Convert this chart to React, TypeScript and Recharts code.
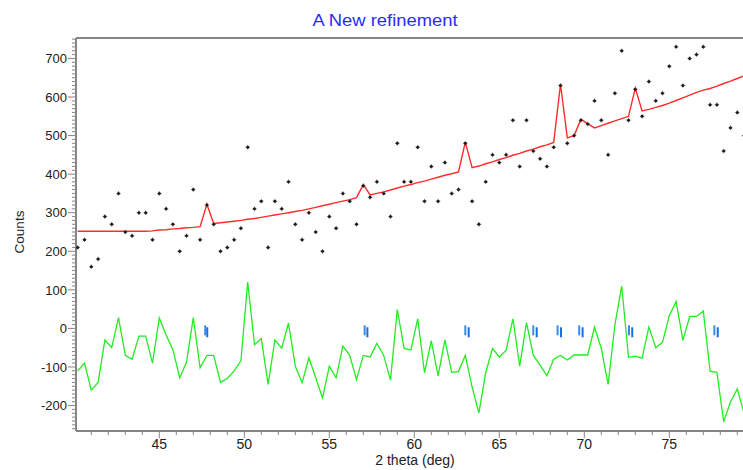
import React from 'react';
import { ComposedChart, Line, Scatter, XAxis, YAxis, ReferenceLine } from 'recharts';

// 2 theta positions of the scan (deg)
const twoTheta = [
  40.2, 40.6, 41.0, 41.4, 41.8, 42.2, 42.6, 43.0, 43.4, 43.8,
  44.2, 44.6, 45.0, 45.4, 45.8, 46.2, 46.6, 47.0, 47.4, 47.8,
  48.2, 48.6, 49.0, 49.4, 49.8, 50.2, 50.6, 51.0, 51.4, 51.8,
  52.2, 52.6, 53.0, 53.4, 53.8, 54.2, 54.6, 55.0, 55.4, 55.8,
  56.2, 56.6, 57.0, 57.4, 57.8, 58.2, 58.6, 59.0, 59.4, 59.8,
  60.2, 60.6, 61.0, 61.4, 61.8, 62.2, 62.6, 63.0, 63.4, 63.8,
  64.2, 64.6, 65.0, 65.4, 65.8, 66.2, 66.6, 67.0, 67.4, 67.8,
  68.2, 68.6, 69.0, 69.4, 69.8, 70.2, 70.6, 71.0, 71.4, 71.8,
  72.2, 72.6, 73.0, 73.4, 73.8, 74.2, 74.6, 75.0, 75.4, 75.8,
  76.2, 76.6, 77.0, 77.4, 77.8, 78.2, 78.6, 79.0, 79.4,
];

const observed = [
  210, 230, 160, 180, 290, 270, 350, 250, 240, 300,
  300, 230, 350, 310, 270, 200, 240, 360, 230, 320,
  270, 200, 210, 230, 260, 470, 310, 330, 210, 330,
  310, 380, 270, 230, 300, 250, 200, 290, 260, 350,
  330, 270, 370, 340, 380, 350, 290, 480, 380, 380,
  470, 330, 420, 330, 430, 350, 360, 480, 330, 270,
  380, 450, 430, 450, 540, 420, 540, 460, 440, 420,
  470, 630, 480, 500, 540, 530, 590, 540, 450, 610,
  720, 540, 620, 550, 640, 590, 610, 680, 730, 630,
  700, 710, 730, 580, 580, 460, 520, 560, 500,
];

const calculated = [
  252, 252, 252, 252, 252, 252, 252, 252, 252, 252,
  252, 253, 255, 256, 258, 259, 261, 262, 264, 322,
  272, 274, 276, 278, 280, 283, 285, 288, 291, 294,
  297, 300, 303, 306, 310, 314, 318, 322, 326, 330,
  334, 339, 373, 346, 350, 354, 359, 364, 369, 373,
  378, 382, 387, 392, 397, 401, 406, 483, 417, 421,
  427, 432, 438, 443, 449, 454, 460, 465, 471, 476,
  482, 633, 494, 500, 542, 531, 520, 526, 532, 538,
  544, 550, 623, 564, 568, 573, 578, 584, 591, 598,
  605, 612, 618, 622, 628, 635, 641, 648, 655,
];

const difference = [
  -110, -90, -160, -140, -30, -50, 28, -70, -80, -20,
  -20, -90, 27, -17, -55, -128, -88, 28, -102, -70,
  -70, -140, -130, -110, -84, 120, -42, -26, -145, -30,
  -51, 14, -98, -141, -76, -128, -180, -98, -128, -46,
  -70, -133, -70, -74, -39, -70, -134, 49, -52, -56,
  25, -115, -32, -123, -30, -114, -112, -70, -152, -219,
  -115, -52, -74, -57, 25, -98, 15, -70, -95, -123,
  -80, -70, -82, -69, -69, -69, 3, -52, -145, 9,
  110, -75, -72, -77, 4, -50, -36, 33, 70, -31,
  31, 31, 45, -111, -114, -242, -190, -157, -220,
];

// reflection positions (two lines per reflection)
const reflA = [47.7, 57.08, 63.0, 67.0, 68.43, 69.7, 72.63, 77.65];
const reflB = [47.82, 57.24, 63.2, 67.2, 68.63, 69.9, 72.82, 77.85];
const reflAY = -5;
const reflBY = -10;

const xLabels = [45, 50, 55, 60, 65, 70, 75];
const yLabels = [-200, -100, 0, 100, 200, 300, 400, 500, 600, 700];

const X_MIN = 40.1;
const X_MAX = 80.1;
const Y_MIN = -266;
const Y_MAX = 753;

const rows = twoTheta.map((x, i) => ({
  x,
  obs: observed[i],
  calc: calculated[i],
  diff: difference[i],
}));
const reflRowsA = reflA.map((x) => ({ x, r: reflAY }));
const reflRowsB = reflB.map((x) => ({ x, r: reflBY }));

const xTicks: number[] = [];
for (let v = 41; v <= 80; v++) xTicks.push(v);
const yTicks: number[] = [];
for (let v = -260; v <= 750; v += 10) yTicks.push(v);

const AXIS = '#858585';
const FONT = '"Liberation Sans", Arial, sans-serif';

const YTick = (props: any) => {
  const { x, y, payload } = props;
  const major = yLabels.includes(payload.value);
  return (
    <g>
      <line x1={x - (major ? 8 : 4)} x2={x - 1} y1={y} y2={y} stroke={AXIS} strokeWidth={1} />
      {major && (
        <text x={x - 9} y={y} dy="0.36em" textAnchor="end" fontSize={13} fill="#222" fontFamily={FONT}>
          {payload.value}
        </text>
      )}
    </g>
  );
};

const XTick = (props: any) => {
  const { x, y, payload } = props;
  const major = xLabels.includes(payload.value);
  return (
    <g>
      <line x1={x} x2={x} y1={y + 1} y2={y + (major ? 7 : 4)} stroke={AXIS} strokeWidth={1} />
      {major && (
        <text x={x} y={y + 18} textAnchor="middle" fontSize={14} fill="#222" fontFamily={FONT}>
          {payload.value}
        </text>
      )}
    </g>
  );
};

const ObsMark = (props: any) => {
  const { cx, cy } = props;
  return (
    <g>
      <path d={`M${cx - 2.3},${cy}H${cx + 2.3}M${cx},${cy - 2.3}V${cy + 2.3}`} stroke="#555" strokeWidth={1} opacity={0.7} />
      <circle cx={cx} cy={cy} r={1.5} fill="#1a1a1a" />
    </g>
  );
};

const ReflMark = (color: string) => (props: any) => {
  const { cx, cy } = props;
  return <rect x={cx - 1} y={cy - 5} width={2} height={10} fill={color} />;
};

export default function App() {
  return (
    <div
      style={{
        position: 'absolute',
        left: 0,
        top: 0,
        width: 743,
        height: 470,
        overflow: 'hidden',
        background: '#fff',
      }}
    >
      <ComposedChart width={766} height={470} data={rows} margin={{ top: 38, right: 10, bottom: 0, left: 0 }}>
        <XAxis
          type="number"
          dataKey="x"
          domain={[X_MIN, X_MAX]}
          allowDataOverflow
          ticks={xTicks}
          interval={0}
          height={39}
          tickSize={0}
          tickMargin={0}
          tickLine={false}
          tick={<XTick />}
          axisLine={{ stroke: AXIS, strokeWidth: 2 }}
        />
        <YAxis
          type="number"
          domain={[Y_MIN, Y_MAX]}
          allowDataOverflow
          ticks={yTicks}
          interval={0}
          width={76}
          tickSize={0}
          tickMargin={0}
          tickLine={false}
          tick={<YTick />}
          axisLine={{ stroke: AXIS, strokeWidth: 2 }}
        />
        <ReferenceLine y={Y_MAX} stroke={AXIS} strokeWidth={2} />
        <Line type="linear" dataKey="diff" stroke="#22ec22" strokeWidth={1.3} dot={false} isAnimationActive={false} />
        <Line type="linear" dataKey="calc" stroke="#ff2b2b" strokeWidth={1.4} dot={false} isAnimationActive={false} />
        <Scatter dataKey="obs" shape={<ObsMark />} isAnimationActive={false} />
        <Scatter data={reflRowsA} dataKey="r" shape={ReflMark('#3a8cec')} isAnimationActive={false} />
        <Scatter data={reflRowsB} dataKey="r" shape={ReflMark('#1570e4')} isAnimationActive={false} />
      </ComposedChart>
      <svg
        width={743}
        height={470}
        style={{ position: 'absolute', left: 0, top: 0, pointerEvents: 'none' }}
      >
        <text
          x={385}
          y={26}
          textAnchor="middle"
          fontSize={17}
          textLength={145}
          lengthAdjust="spacingAndGlyphs"
          fill="#2b2bff"
          fontFamily={FONT}
        >
          A New refinement
        </text>
        <text transform="translate(24,232) rotate(-90)" textAnchor="middle" fontSize={13.5} fill="#222" fontFamily={FONT}>
          Counts
        </text>
        <text x={415} y={465} textAnchor="middle" fontSize={14} fill="#222" fontFamily={FONT}>
          2 theta (deg)
        </text>
      </svg>
    </div>
  );
}
